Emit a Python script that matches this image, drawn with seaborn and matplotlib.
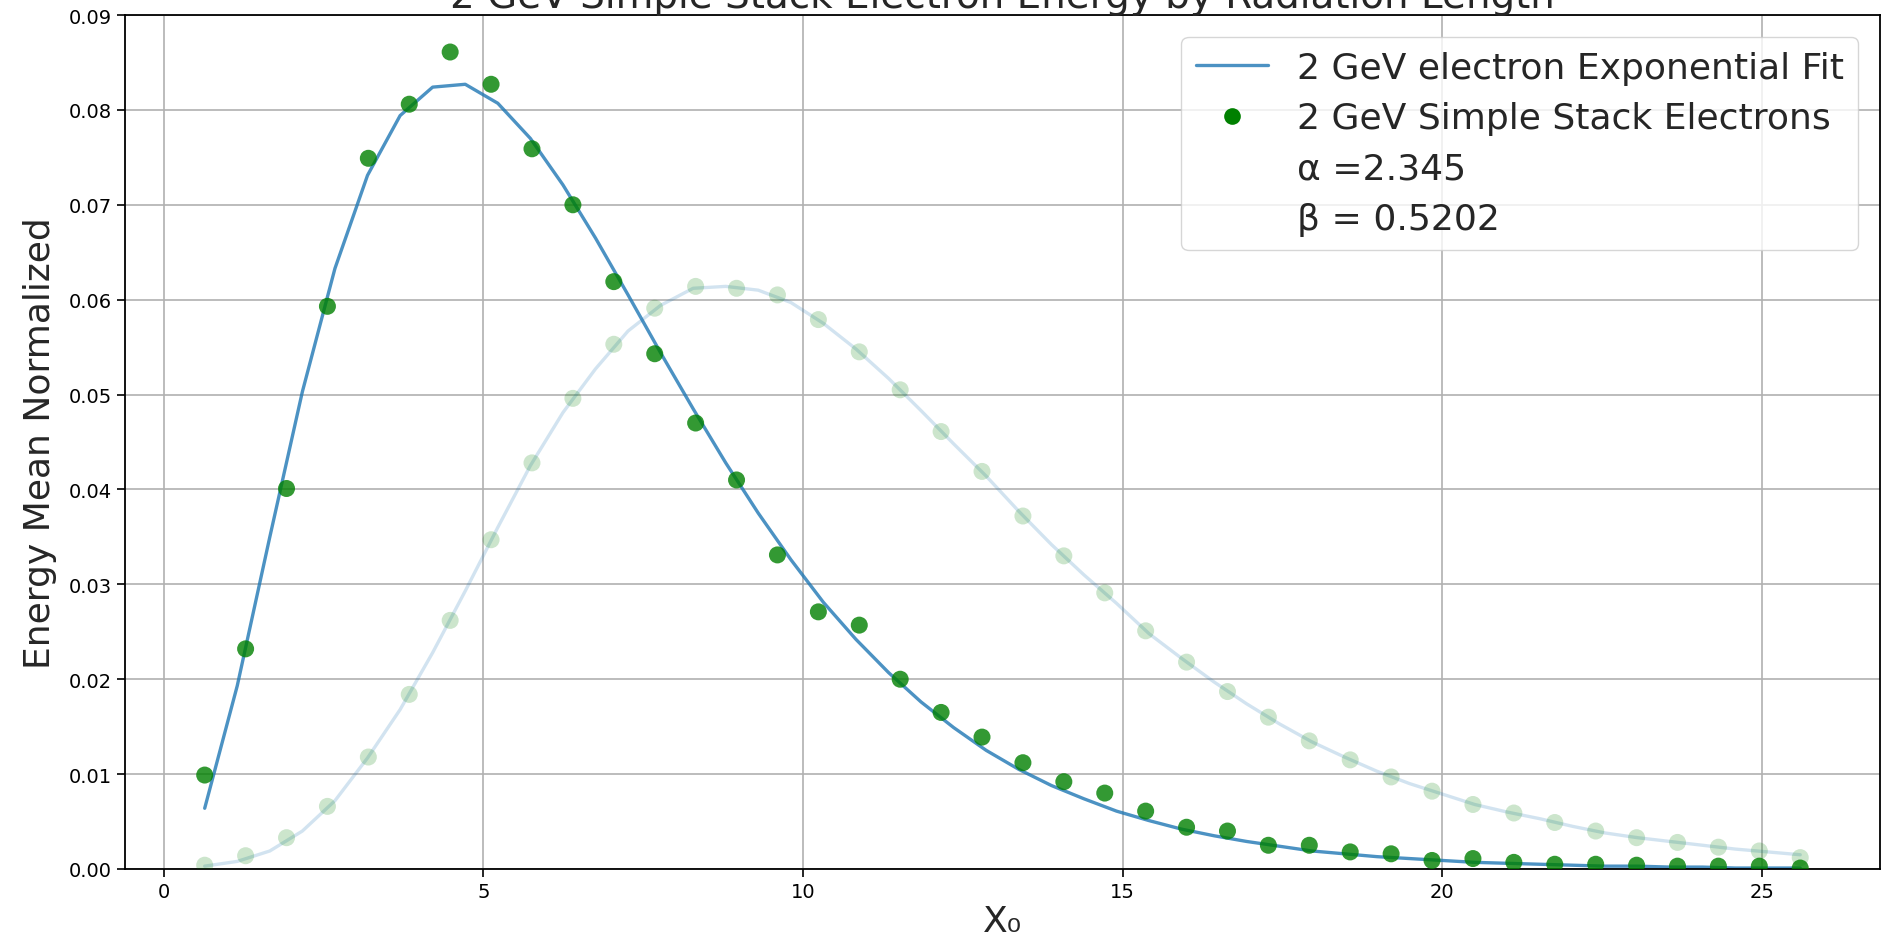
import matplotlib
matplotlib.use("Agg")
import matplotlib.pyplot as plt
from matplotlib.lines import Line2D
import seaborn as sns

# ---- data ----
x_points = [0.64, 1.28, 1.92, 2.56, 3.20, 3.84, 4.48, 5.12, 5.76, 6.40,
            7.04, 7.68, 8.32, 8.96, 9.60, 10.24, 10.88, 11.52, 12.16, 12.80,
            13.44, 14.08, 14.72, 15.36, 16.00, 16.64, 17.28, 17.92, 18.56, 19.20,
            19.84, 20.48, 21.12, 21.76, 22.40, 23.04, 23.68, 24.32, 24.96, 25.60]

electron_points = [0.0099, 0.0232, 0.0401, 0.0593, 0.0749, 0.0806, 0.0861, 0.0827, 0.0759, 0.0700,
                   0.0619, 0.0543, 0.0470, 0.0410, 0.0331, 0.0271, 0.0257, 0.0200, 0.0165, 0.0139,
                   0.0112, 0.0092, 0.0080, 0.0061, 0.0044, 0.0040, 0.0025, 0.0025, 0.0018, 0.0016,
                   0.0009, 0.0011, 0.0007, 0.0005, 0.0005, 0.0004, 0.0003, 0.0003, 0.0003, 0.0001]

pale_points = [0.0004, 0.0014, 0.0033, 0.0066, 0.0118, 0.0184, 0.0262, 0.0347, 0.0428, 0.0496,
               0.0553, 0.0591, 0.0614, 0.0612, 0.0605, 0.0579, 0.0545, 0.0505, 0.0461, 0.0419,
               0.0372, 0.0330, 0.0291, 0.0251, 0.0218, 0.0187, 0.0160, 0.0135, 0.0115, 0.0097,
               0.0082, 0.0068, 0.0059, 0.0049, 0.0040, 0.0033, 0.0028, 0.0023, 0.0019, 0.0012]

x_fit = [0.640, 1.149, 1.659, 2.168, 2.678, 3.187, 3.697, 4.206, 4.716, 5.225,
         5.734, 6.244, 6.753, 7.263, 7.772, 8.281, 8.791, 9.300, 9.810, 10.319,
         10.828, 11.338, 11.847, 12.357, 12.866, 13.375, 13.885, 14.394, 14.904, 15.413,
         15.922, 16.432, 16.941, 17.451, 17.960, 18.469, 18.979, 19.488, 19.998, 20.507,
         21.016, 21.526, 22.035, 22.545, 23.054, 23.563, 24.073, 24.582, 25.092, 25.600]

electron_fit = [0.0064, 0.0193, 0.0350, 0.0503, 0.0633, 0.0731, 0.0794, 0.0824, 0.0827, 0.0807,
                0.0770, 0.0721, 0.0665, 0.0605, 0.0544, 0.0485, 0.0428, 0.0375, 0.0326, 0.0281,
                0.0242, 0.0207, 0.0176, 0.0149, 0.0125, 0.0105, 0.0088, 0.0074, 0.0061, 0.0051,
                0.0042, 0.0035, 0.0029, 0.0024, 0.0019, 0.0016, 0.0013, 0.0011, 0.0009, 0.0007,
                0.0006, 0.0005, 0.0004, 0.0003, 0.0003, 0.0002, 0.0002, 0.0001, 0.0001, 0.0001]

pale_fit = [0.0003, 0.0008, 0.0019, 0.0040, 0.0072, 0.0117, 0.0168, 0.0228, 0.0293, 0.0360,
            0.0425, 0.0481, 0.0527, 0.0567, 0.0594, 0.0612, 0.0614, 0.0610, 0.0597, 0.0575,
            0.0548, 0.0517, 0.0483, 0.0448, 0.0414, 0.0377, 0.0342, 0.0310, 0.0280, 0.0248,
            0.0222, 0.0197, 0.0174, 0.0153, 0.0134, 0.0118, 0.0103, 0.0090, 0.0079, 0.0068,
            0.0060, 0.0053, 0.0045, 0.0038, 0.0033, 0.0029, 0.0025, 0.0021, 0.0018, 0.0015]

labels = ["2 GeV electron Exponential Fit", "2 GeV Simple Stack Electrons",
          "\u03b1 =2.345", "\u03b2 = 0.5202"]

# ---- style ----
sns.set_style("ticks")
plt.rcParams["font.family"] = ["DejaVu Sans"]

fig = plt.figure(figsize=(18.87, 9.53), dpi=100)
ax = fig.add_axes([0.0662, 0.0871, 0.9301, 0.8961])

blue = "#1f77b4"
sns.lineplot(x=x_fit, y=pale_fit, ax=ax, color=blue, alpha=0.2, lw=2.4)
sns.scatterplot(x=x_points, y=pale_points, ax=ax, color="green", alpha=0.2,
                s=150, edgecolor="none", zorder=3)
sns.lineplot(x=x_fit, y=electron_fit, ax=ax, color=blue, alpha=0.8, lw=2.4)
sns.scatterplot(x=x_points, y=electron_points, ax=ax, color="green", alpha=0.8,
                s=150, edgecolor="none", zorder=4)

ax.set_ylim(0, 0.09)
ax.set_xlim(-0.608, 26.848)
ax.set_yticks([0.00, 0.01, 0.02, 0.03, 0.04, 0.05, 0.06, 0.07, 0.08, 0.09])
ax.set_xticks([0, 5, 10, 15, 20, 25])
ax.grid(True, color="#b0b0b0", lw=1.2)
ax.tick_params(labelsize=14, length=6, width=1.2, color="black", labelcolor="black")
for sp in ax.spines.values():
    sp.set_color("black")
    sp.set_linewidth(1.3)

ax.set_xlabel("X\u2080", fontsize=26, labelpad=2)
ax.set_ylabel("Energy Mean Normalized", fontsize=26, labelpad=8)
ax.set_title("2 GeV Simple Stack Electron Energy by Radiation Length", fontsize=28, pad=3)

h_line = Line2D([], [], color=blue, alpha=0.8, lw=2.4)
h_pts = Line2D([], [], color="green", marker="o", ls="none", markersize=12, markeredgewidth=0)
h_blank1 = Line2D([], [], ls="none", marker=None)
h_blank2 = Line2D([], [], ls="none", marker=None)
leg = ax.legend([h_line, h_pts, h_blank1, h_blank2], labels, loc="upper right",
                fontsize=26, frameon=True, framealpha=0.8, fancybox=True,
                labelspacing=0.45, borderaxespad=0.6)
leg.get_frame().set_edgecolor("#cccccc")

fig.savefig("out.png", dpi=100)
